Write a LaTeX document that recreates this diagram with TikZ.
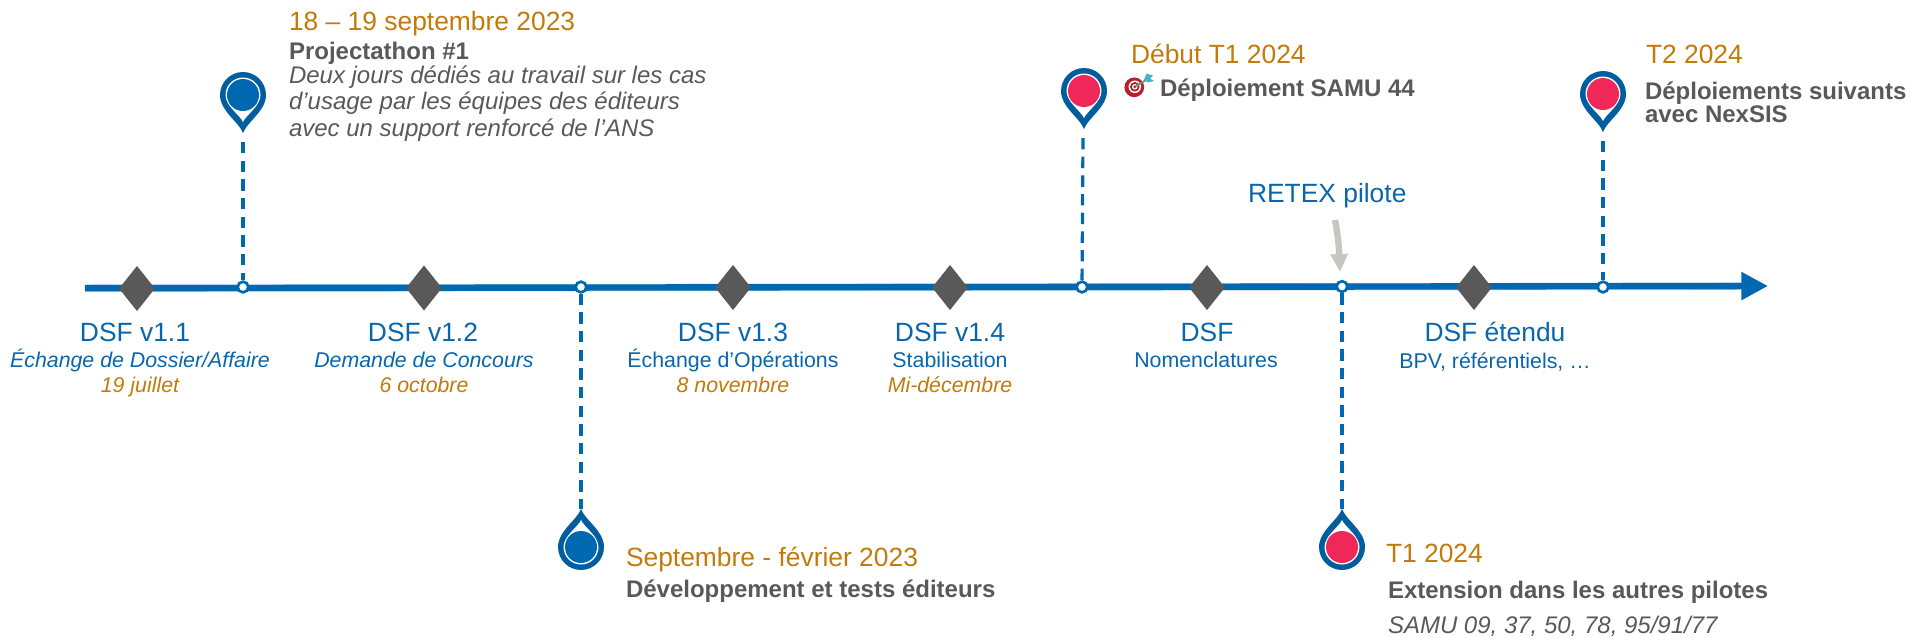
\documentclass[tikz,border=0pt]{standalone}
\usepackage{fontspec}
\setmainfont{Liberation Sans}
\usetikzlibrary{shapes.geometric,arrows.meta}
\definecolor{tlblue}{HTML}{0068B0}
\definecolor{tlhalo}{HTML}{BFD8EC}
\definecolor{pinblue}{HTML}{005E9E}
\definecolor{pinred}{HTML}{F0285A}
\definecolor{txtorange}{HTML}{C27A0A}
\definecolor{txtgray}{HTML}{595959}
\definecolor{txtblue}{HTML}{0866AC}
\definecolor{diagray}{HTML}{595959}
\definecolor{notegray}{HTML}{C9C5C1}
\definecolor{tgtred}{HTML}{B5202A}
\definecolor{dartteal}{HTML}{45B5C5}
\definecolor{dartgray}{HTML}{7A8A70}
\tikzset{
  x=0.75pt,y=-0.75pt,
  lbl/.style={inner sep=0pt,outer sep=0pt,anchor=base west},
  ctr/.style={inner sep=0pt,outer sep=0pt,anchor=base},
  big/.style={font=\fontsize{19.8}{22}\selectfont},
  sub/.style={font=\fontsize{16}{18}\selectfont},
  subit/.style={font=\fontsize{16}{18}\selectfont\itshape},
  date/.style={big,text=txtorange},
  head/.style={text=txtgray,font=\fontsize{18}{20}\selectfont\bfseries},
  desc/.style={text=txtgray,font=\fontsize{18}{20}\selectfont\itshape},
  dsf/.style={big,text=txtblue},
  gem/.style={diamond,fill=diagray,draw=none,inner sep=0pt,minimum width=27pt,minimum height=34pt},
  dot/.style={circle,fill=white,draw=tlblue,line width=2pt,inner sep=0pt,minimum size=8pt},
  drop/.style={tlblue,line width=2.4pt,dash pattern=on 8.6pt off 5.4pt},
  pinmark/.pic={
    \fill[pinblue] (0,38) .. controls (-4,27) and (-23,16) .. (-23,0)
      .. controls (-23,-12.7) and (-12.7,-23) .. (0,-23)
      .. controls (12.7,-23) and (23,-12.7) .. (23,0)
      .. controls (23,16) and (4,27) .. (0,38) -- cycle;
    \fill[white] (0,27) .. controls (-3,20) and (-17.5,11) .. (-17.5,0)
      .. controls (-17.5,-9.7) and (-9.7,-17.5) .. (0,-17.5)
      .. controls (9.7,-17.5) and (17.5,-9.7) .. (17.5,0)
      .. controls (17.5,11) and (3,20) .. (0,27) -- cycle;
    \fill[#1] (0,0) circle[radius=12pt];
    \coordinate (-tip) at (0,38);
  },
}
\begin{document}
\begin{tikzpicture}
\useasboundingbox (0,0) rectangle (1911,637);
% timeline
\coordinate (tlstart) at (85,288.2);
\coordinate (tlend) at (1768,286);
\draw[tlhalo,line width=5.6pt] (tlstart) -- (1741,286.2);
\draw[tlblue,line width=4.8pt,-{Triangle[length=20pt,width=20pt]}] (tlstart) -- (tlend);
% diamonds
\node[gem] (g1) at (137,288.5) {};
\node[gem] (g2) at (424,288) {};
\node[gem] (g3) at (733,287.5) {};
\node[gem] (g4) at (950,287.5) {};
\node[gem] (g5) at (1207,287.5) {};
\node[gem] (g6) at (1474,287.5) {};
% pins
\pic (p1) at (243,95) {pinmark=tlblue};
\pic[rotate=180] (p2) at (581,547) {pinmark=tlblue};
\pic (p3) at (1084,91) {pinmark=pinred};
\pic[rotate=180] (p4) at (1342,547) {pinmark=pinred};
\pic (p5) at (1603,94) {pinmark=pinred};
% junction dots
\node[dot] (d1) at (243,287) {};
\node[dot] (d2) at (581,287) {};
\node[dot] (d3) at (1082,287) {};
\node[dot] (d4) at (1342,286.5) {};
\node[dot] (d5) at (1603,287) {};
% dashed links
\draw[drop] (p1-tip) ++(0,9) -- (d1);
\draw[drop] (d2) -- (p2-tip);
\draw[drop] (p3-tip) ++(-1,9) -- (d3);
\draw[drop] (d4) -- (p4-tip);
\draw[drop] (p5-tip) ++(0,9) -- (d5);
% RETEX arrow
\coordinate (nfrom) at (1335,220);
\coordinate (nto) at (1340,272);
\draw[notegray,line width=4.8pt,-{Triangle[length=13.5pt,width=12.5pt]}] (nfrom) .. controls (1338,235) and (1339,248) .. (nto);
% target icon
\fill[tgtred] (1134.3,87.3) circle[radius=7.4pt];
\fill[white] (1134.8,86.8) circle[radius=4.7pt];
\fill[tgtred] (1134.8,86.8) circle[radius=3.6pt];
\fill[white] (1134.8,86.8) circle[radius=2.1pt];
\fill[tgtred] (1134.8,86.8) circle[radius=1.2pt];
\draw[dartgray,line width=1.3pt] (1136,86) -- (1147,79.5);
\fill[dartteal] (1144,79.5) -- (1146.5,73.5) -- (1153,75.5) -- (1150,78.5) -- (1154,81) -- (1148,82.5) -- cycle;
% upper texts
\node[lbl,date] (t1) at (289,30) {18 – 19 septembre 2023};
\node[lbl,head] (t2) at (289,59) {Projectathon \#1};
\node[lbl,desc] (t3) at (289,83) {Deux jours dédiés au travail sur les cas};
\node[lbl,desc] (t4) at (289,109) {d’usage par les équipes des éditeurs};
\node[lbl,desc] (t5) at (289,136) {avec un support renforcé de l’ANS};
\node[lbl,date] (t6) at (1131,63) {Début T1 2024};
\node[lbl,head] (t7) at (1160,96) {Déploiement SAMU 44};
\node[lbl,date] (t8) at (1646,63) {T2 2024};
\node[lbl,head] (t9) at (1645,99) {Déploiements suivants};
\node[lbl,head] (t10) at (1645,122) {avec NexSIS};
\node[lbl,big,text=txtblue] (t11) at (1248,202) {RETEX pilote};
% lower texts
\node[lbl,date] (t12) at (626,566) {Septembre - février 2023};
\node[lbl,head] (t13) at (626,597) {Développement et tests éditeurs};
\node[lbl,date] (t14) at (1386,562) {T1 2024};
\node[lbl,head] (t15) at (1388,598) {Extension dans les autres pilotes};
\node[lbl,desc] (t16) at (1388,633) {SAMU 09, 37, 50, 78, 95/91/77};
% version labels
\node[ctr,dsf] (v1) at (135,341) {DSF v1.1};
\node[ctr,subit,text=txtblue] (v1a) at (140,367) {Échange de Dossier/Affaire};
\node[ctr,subit,text=txtorange] (v1b) at (140,392) {19 juillet};
\node[ctr,dsf] (v2) at (423,341) {DSF v1.2};
\node[ctr,subit,text=txtblue] (v2a) at (424,367) {Demande de Concours};
\node[ctr,subit,text=txtorange] (v2b) at (424,392) {6 octobre};
\node[ctr,dsf] (v3) at (733,341) {DSF v1.3};
\node[ctr,sub,text=txtblue] (v3a) at (733,367) {Échange d’Opérations};
\node[ctr,subit,text=txtorange] (v3b) at (733,392) {8 novembre};
\node[ctr,dsf] (v4) at (950,341) {DSF v1.4};
\node[ctr,sub,text=txtblue] (v4a) at (950,367) {Stabilisation};
\node[ctr,subit,text=txtorange] (v4b) at (950,392) {Mi-décembre};
\node[ctr,dsf] (v5) at (1207,341) {DSF};
\node[ctr,sub,text=txtblue] (v5a) at (1206,367) {Nomenclatures};
\node[ctr,dsf] (v6) at (1495,341) {DSF étendu};
\node[ctr,sub,text=txtblue] (v6a) at (1495,368) {BPV, référentiels, …};
\end{tikzpicture}
\end{document}
